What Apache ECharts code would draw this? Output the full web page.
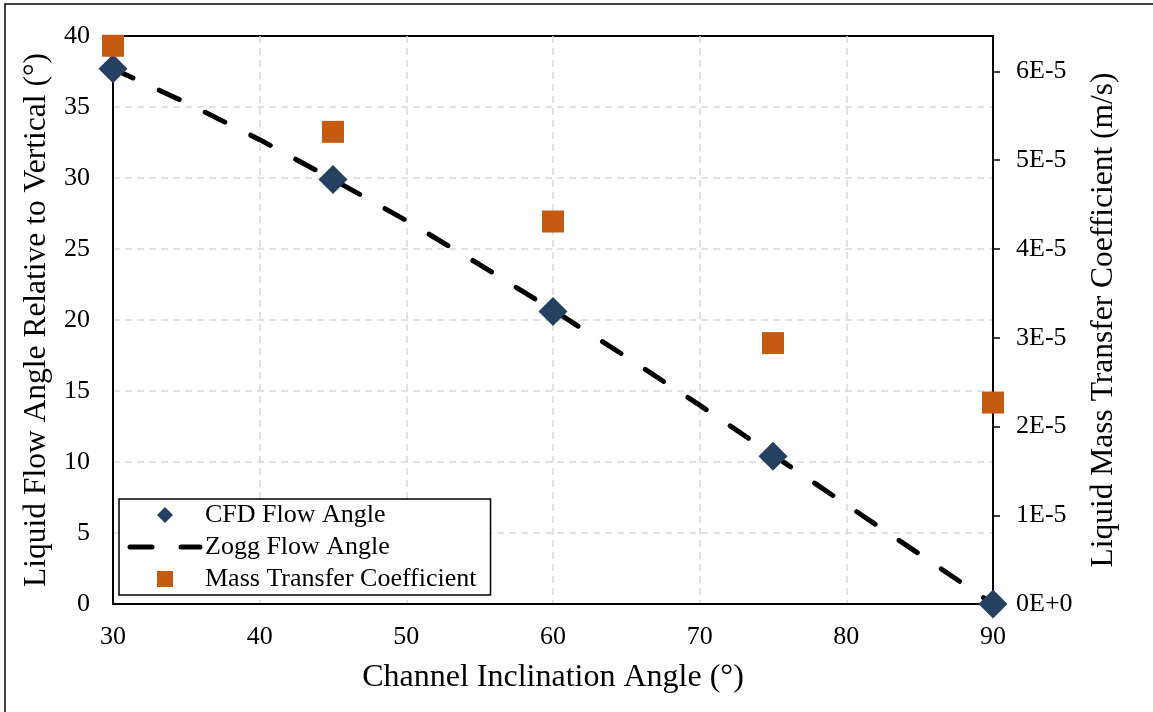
<!DOCTYPE html>
<html>
<head>
<meta charset="utf-8">
<script src="https://cdn.jsdelivr.net/npm/echarts@6/dist/echarts.min.js"></script>
<style>
  html, body { margin: 0; padding: 0; background: #ffffff; }
  #chart { width: 1153px; height: 712px; }
</style>
</head>
<body>
<div id="chart"></div>
<script>
// Channel inclination angles (degrees) of the CFD runs
const inclination = [30, 45, 60, 75, 90];
// CFD liquid flow angle relative to vertical (degrees)
const cfdFlowAngle = [37.7, 29.9, 20.6, 10.4, 0];
// Liquid mass transfer coefficient (m/s)
const massTransfer = [6.29e-5, 5.32e-5, 4.31e-5, 2.94e-5, 2.27e-5];
// Zogg correlation curve
const zoggInclination = [30, 35, 40, 45, 50, 55, 60, 65, 70, 75, 80, 85, 90];
const zoggFlowAngle = [37.7, 35.3, 32.7, 29.9, 27.0, 23.9, 20.7, 17.4, 14.0, 10.5, 7.0, 3.5, 0];
// Right axis ticks and their labels
const rightTicks = [0, 1e-5, 2e-5, 3e-5, 4e-5, 5e-5, 6e-5];
const rightTickLabels = ['0E+0', '1E-5', '2E-5', '3E-5', '4E-5', '5E-5', '6E-5'];

const FONT = 'Liberation Serif';
const TEXT = '#000000';
const GRID_LINE = {
  show: true, showMinLine: false, showMaxLine: false,
  lineStyle: { color: '#D9D9D9', width: 1.5, type: [7, 5] }
};
const ZOGG_LINE = { color: '#000000', width: 5, type: [22, 29], cap: 'round', join: 'round' };
const HIDDEN = 'rgba(0,0,0,0)';

const diamondIcon = 'path://M8,0L16,8L8,16L0,8Z';
const squareIcon = 'path://M0,0H16V16H0Z';

const chart = echarts.init(document.getElementById('chart'), null, { renderer: 'canvas' });

chart.setOption({
  backgroundColor: '#ffffff',
  animation: false,
  textStyle: { fontFamily: FONT, color: TEXT },
  graphic: [{
    type: 'rect',
    silent: true,
    shape: { x: 5, y: 4, width: 1400, height: 1000 },
    style: { fill: 'none', stroke: '#000000', lineWidth: 1.5 }
  }],
  grid: {
    left: 113, right: 160, top: 36, bottom: 108,
    show: true, borderColor: '#000000', borderWidth: 2, backgroundColor: 'transparent'
  },
  legend: {
    orient: 'vertical',
    left: 119, top: 499,
    itemWidth: 70, itemHeight: 16, itemGap: 6,
    padding: [3, 14, 3, 8.5],
    backgroundColor: '#ffffff',
    borderColor: '#000000', borderWidth: 1.5,
    textStyle: { fontFamily: FONT, fontSize: 26, color: TEXT },
    data: [
      { name: 'CFD Flow Angle', icon: diamondIcon },
      {
        name: 'Zogg Flow Angle',
        lineStyle: ZOGG_LINE,
        itemStyle: { color: HIDDEN, borderColor: HIDDEN, borderWidth: 0 }
      },
      { name: 'Mass Transfer Coefficient', icon: squareIcon }
    ]
  },
  xAxis: {
    type: 'value',
    min: 30, max: 90, interval: 10,
    name: 'Channel Inclination Angle (°)',
    nameLocation: 'middle', nameGap: 58,
    nameTextStyle: { fontFamily: FONT, fontSize: 32, color: TEXT },
    axisLine: { show: true, lineStyle: { color: '#000000', width: 2 } },
    axisTick: { show: false },
    axisLabel: { fontFamily: FONT, fontSize: 26, color: TEXT, margin: 20 },
    splitLine: GRID_LINE
  },
  yAxis: [{
    type: 'value',
    position: 'left',
    min: 0, max: 40, interval: 5,
    name: 'Liquid Flow Angle Relative to Vertical (°)',
    nameLocation: 'middle', nameGap: 60,
    nameTextStyle: { fontFamily: FONT, fontSize: 31.5, color: TEXT },
    axisLine: { show: true, lineStyle: { color: '#000000', width: 2 } },
    axisTick: { show: false },
    axisLabel: { fontFamily: FONT, fontSize: 26, color: TEXT, margin: 23 },
    splitLine: GRID_LINE
  }, {
    type: 'value',
    position: 'right',
    min: 0, max: 6.4e-5,
    name: 'Liquid Mass Transfer Coefficient (m/s)',
    nameLocation: 'middle', nameGap: 95,
    nameTextStyle: { fontFamily: FONT, fontSize: 31.5, color: TEXT },
    axisLine: { show: true, lineStyle: { color: '#000000', width: 2 } },
    axisTick: {
      show: true, inside: false, length: 7,
      customValues: rightTicks,
      lineStyle: { color: '#000000', width: 1.5 }
    },
    axisLabel: {
      fontFamily: FONT, fontSize: 26, color: TEXT, margin: 23,
      customValues: rightTicks,
      formatter: function (v) {
        const i = rightTicks.findIndex(t => Math.abs(t - v) < 1e-9);
        return i >= 0 ? rightTickLabels[i] : '';
      }
    },
    splitLine: { show: false }
  }],
  series: [{
    name: 'Zogg Flow Angle',
    type: 'line',
    xAxisIndex: 0, yAxisIndex: 0,
    data: zoggInclination.map((x, i) => [x, zoggFlowAngle[i]]),
    symbol: 'none',
    clip: false,
    z: 2,
    itemStyle: { color: '#000000' },
    lineStyle: ZOGG_LINE
  }, {
    name: 'CFD Flow Angle',
    type: 'scatter',
    xAxisIndex: 0, yAxisIndex: 0,
    data: inclination.map((x, i) => [x, cfdFlowAngle[i]]),
    symbol: 'diamond',
    symbolSize: 29,
    clip: false,
    z: 3,
    itemStyle: { color: '#254061', opacity: 1 }
  }, {
    name: 'Mass Transfer Coefficient',
    type: 'scatter',
    xAxisIndex: 0, yAxisIndex: 1,
    data: inclination.map((x, i) => [x, massTransfer[i]]),
    symbol: 'rect',
    symbolSize: 22,
    clip: false,
    z: 3,
    itemStyle: { color: '#C55A11', opacity: 1 }
  }]
});
</script>
</body>
</html>
